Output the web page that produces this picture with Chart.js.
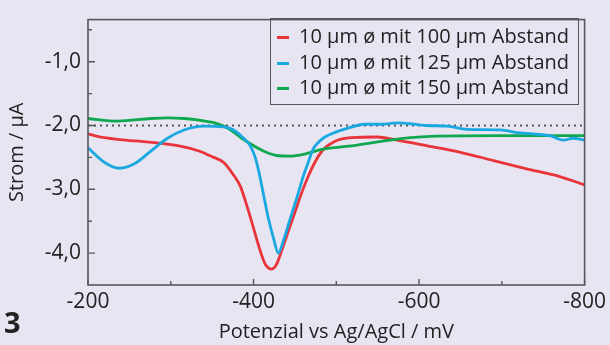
<!DOCTYPE html>
<html>
<head>
<meta charset="utf-8">
<script src="https://cdn.jsdelivr.net/npm/chart.js@4"></script>
<style>
  html, body { margin: 0; padding: 0; background: #e6e5f1; }
  #wrap { position: relative; width: 610px; height: 345px; font-family: "Open Sans", sans-serif; color: #222; }
  #legend { position: absolute; left: 270px; top: 18px; width: 309px; height: 87px; border: 1px solid #58585a; box-sizing: border-box; padding-top: 4px; }
  .item { height: 25.5px; line-height: 25.5px; font-size: 20px; white-space: nowrap; }
  .item span { display: inline-block; width: 12px; height: 3px; vertical-align: middle; margin: 0 10px 0 6px; }
  #num { position: absolute; left: 4px; top: 307px; font-size: 29px; line-height: 1; font-weight: bold; }
</style>
</head>
<body>
<div id="wrap">
  <canvas id="chart" width="610" height="345"></canvas>
  <div id="legend"></div>
  <div id="num">3</div>
</div>
<script>
const labels = ["10 µm ø mit 100 µm Abstand", "10 µm ø mit 125 µm Abstand", "10 µm ø mit 150 µm Abstand"];
const colors = ["#e8343a", "#1aa8e0", "#10a84f"];

const potRed = [-200, -214, -238, -274, -310, -334, -350, -364, -376, -384, -392, -400, -408, -414, -422, -428, -434, -442, -450, -458, -466, -474, -484, -498, -518, -550, -570, -610, -650, -690, -730, -770, -800];
const curRed = [-2.13, -2.18, -2.22, -2.26, -2.32, -2.40, -2.49, -2.58, -2.78, -2.95, -3.26, -3.61, -3.96, -4.17, -4.25, -4.17, -3.96, -3.66, -3.36, -3.06, -2.80, -2.58, -2.38, -2.25, -2.19, -2.18, -2.22, -2.32, -2.42, -2.55, -2.68, -2.80, -2.93];

const potBlue = [-200, -220, -238, -256, -276, -296, -316, -340, -364, -376, -388, -396, -402, -406, -410, -414, -418, -424, -430, -436, -442, -448, -454, -460, -466, -472, -478, -484, -502, -514, -534, -554, -574, -594, -610, -634, -658, -698, -718, -758, -774, -786, -800];
const curBlue = [-2.35, -2.58, -2.67, -2.60, -2.40, -2.20, -2.07, -2.01, -2.02, -2.07, -2.20, -2.32, -2.50, -2.70, -2.95, -3.21, -3.46, -3.76, -4.00, -3.81, -3.56, -3.31, -3.06, -2.80, -2.58, -2.37, -2.27, -2.20, -2.09, -2.04, -1.98, -1.98, -1.96, -1.98, -2.00, -2.01, -2.06, -2.07, -2.11, -2.16, -2.23, -2.20, -2.23];

const potGreen = [-200, -236, -276, -296, -316, -336, -356, -370, -388, -412, -428, -444, -464, -484, -518, -558, -590, -614, -700, -800];
const curGreen = [-1.89, -1.93, -1.89, -1.88, -1.89, -1.92, -1.97, -2.05, -2.22, -2.40, -2.47, -2.48, -2.44, -2.37, -2.32, -2.24, -2.19, -2.17, -2.16, -2.16];

// Referenzlinie bei -2,0 µA
const refPot = [-200, -800];
const refCur = [-2.0, -2.0];

// Achsenstriche
const xMajor = [-200, -400, -600, -800];
const xMinor = [-300, -500, -700];
const yMajor = [-1.0, -2.0, -3.0, -4.0];
const yMinor = [-0.5, -1.5, -2.5, -3.5];

const toPoints = (xs, ys) => xs.map((x, i) => ({ x: x, y: ys[i] }));

function lineSet(label, color, xs, ys) {
  return {
    label: label,
    data: toPoints(xs, ys),
    borderColor: color,
    borderWidth: 2.8,
    pointRadius: 0,
    fill: false,
    cubicInterpolationMode: "monotone"
  };
}

// Legende als HTML im Diagramm
const legend = document.getElementById("legend");
labels.forEach((l, i) => {
  const d = document.createElement("div");
  d.className = "item";
  d.innerHTML = '<span style="background:' + colors[i] + '"></span>' + l;
  legend.appendChild(d);
});

// Rahmen und nach innen zeigende Striche
const framePlugin = {
  id: "frame",
  afterDraw(chart) {
    const { ctx, chartArea: a, scales } = chart;
    ctx.save();
    ctx.strokeStyle = "#58585a";
    ctx.lineWidth = 1.6;
    ctx.strokeRect(a.left, a.top, a.right - a.left, a.bottom - a.top);
    ctx.lineWidth = 1.4;
    ctx.beginPath();
    yMajor.concat(yMinor).forEach(v => {
      const y = scales.y.getPixelForValue(v);
      const len = yMajor.includes(v) ? 7 : 4;
      ctx.moveTo(a.left, y);
      ctx.lineTo(a.left + len, y);
    });
    xMajor.concat(xMinor).forEach(v => {
      const x = scales.x.getPixelForValue(v);
      const len = xMajor.includes(v) ? 6 : 4;
      ctx.moveTo(x, a.bottom);
      ctx.lineTo(x, a.bottom - len);
    });
    ctx.stroke();
    ctx.restore();
  }
};

new Chart(document.getElementById("chart"), {
  type: "line",
  data: {
    datasets: [
      lineSet(labels[1], colors[1], potBlue, curBlue),
      lineSet(labels[2], colors[2], potGreen, curGreen),
      lineSet(labels[0], colors[0], potRed, curRed),
      {
        label: "ref",
        data: toPoints(refPot, refCur),
        borderColor: "#555",
        borderWidth: 2,
        borderDash: [2, 4],
        pointRadius: 0
      }
    ]
  },
  options: {
    responsive: false,
    animation: false,
    layout: { padding: { left: 0, right: 22, top: 10, bottom: 0 } },
    plugins: { legend: { display: false }, tooltip: { enabled: false } },
    scales: {
      x: {
        type: "linear",
        reverse: true,
        min: -800,
        max: -200,
        afterBuildTicks: s => { s.ticks = xMajor.map(v => ({ value: v })); },
        afterFit: s => { s.height = 60; },
        grid: { display: false, drawTicks: false },
        border: { display: false },
        ticks: { padding: 4, color: "#222", font: { family: "Open Sans", size: 21 }, maxRotation: 0, callback: v => String(v) },
        title: { display: true, text: "Potenzial vs Ag/AgCl / mV", color: "#222", font: { family: "Open Sans", size: 20 }, padding: { top: 0, bottom: 1 } }
      },
      y: {
        min: -4.5,
        max: -0.34,
        afterBuildTicks: s => { s.ticks = yMajor.map(v => ({ value: v })); },
        afterFit: s => { s.width = 88; },
        grid: { display: false, drawTicks: false },
        border: { display: false },
        ticks: { padding: 7, color: "#222", font: { family: "Open Sans", size: 21 }, callback: v => v.toFixed(1).replace(".", ",") },
        title: { display: true, text: "Strom / µA", color: "#222", font: { family: "Open Sans", size: 20 }, padding: { top: 5, bottom: 0 } }
      }
    }
  },
  plugins: [framePlugin]
});
</script>
</body>
</html>
